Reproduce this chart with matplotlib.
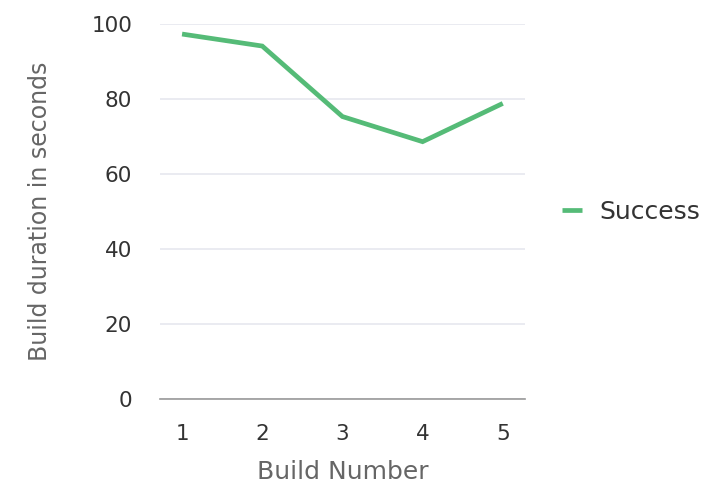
import matplotlib
matplotlib.use("Agg")
import matplotlib.pyplot as plt

builds = [1, 2, 3, 4, 5]
durations = [97.4, 94.2, 75.4, 68.7, 78.9]
yticks = [0, 20, 40, 60, 80, 100]
series_name = "Success"

plt.rcParams['font.family'] = ['DejaVu Sans']

fig = plt.figure(figsize=(7.15, 4.86), dpi=100)
ax = fig.add_axes([0.2238, 0.1784, 0.734 - 0.2238, 0.95 - 0.1784])

ax.plot(builds, durations, color='#55bb77', lw=3.4, solid_capstyle='butt',
        solid_joinstyle='miter', label=series_name, clip_on=False)

ax.set_xlim(0.725, 5.275)
ax.set_ylim(0, 100)
ax.set_yticks(yticks)
ax.set_xticks(builds)
ax.grid(axis='y', color='#e6e8ef', lw=1.2)
ax.set_axisbelow(True)
for s in ['top', 'right', 'left']:
    ax.spines[s].set_visible(False)
ax.spines['bottom'].set_color('#999999')
ax.spines['bottom'].set_linewidth(1.2)
ax.tick_params(axis='both', length=0, labelsize=15.5, labelcolor='#333333')
ax.tick_params(axis='y', pad=20)
ax.tick_params(axis='x', pad=18)

ax.set_xlabel('Build Number', fontsize=18, color='#666666', labelpad=11)
ax.set_ylabel('Build duration in seconds', fontsize=17, color='#666666', labelpad=28)

ax.legend(loc='center left', bbox_to_anchor=(1.04, 0.5), frameon=False,
          fontsize=18, handlelength=0.8, handletextpad=0.7,
          labelcolor='#333333')

fig.savefig('out.png', dpi=100)
